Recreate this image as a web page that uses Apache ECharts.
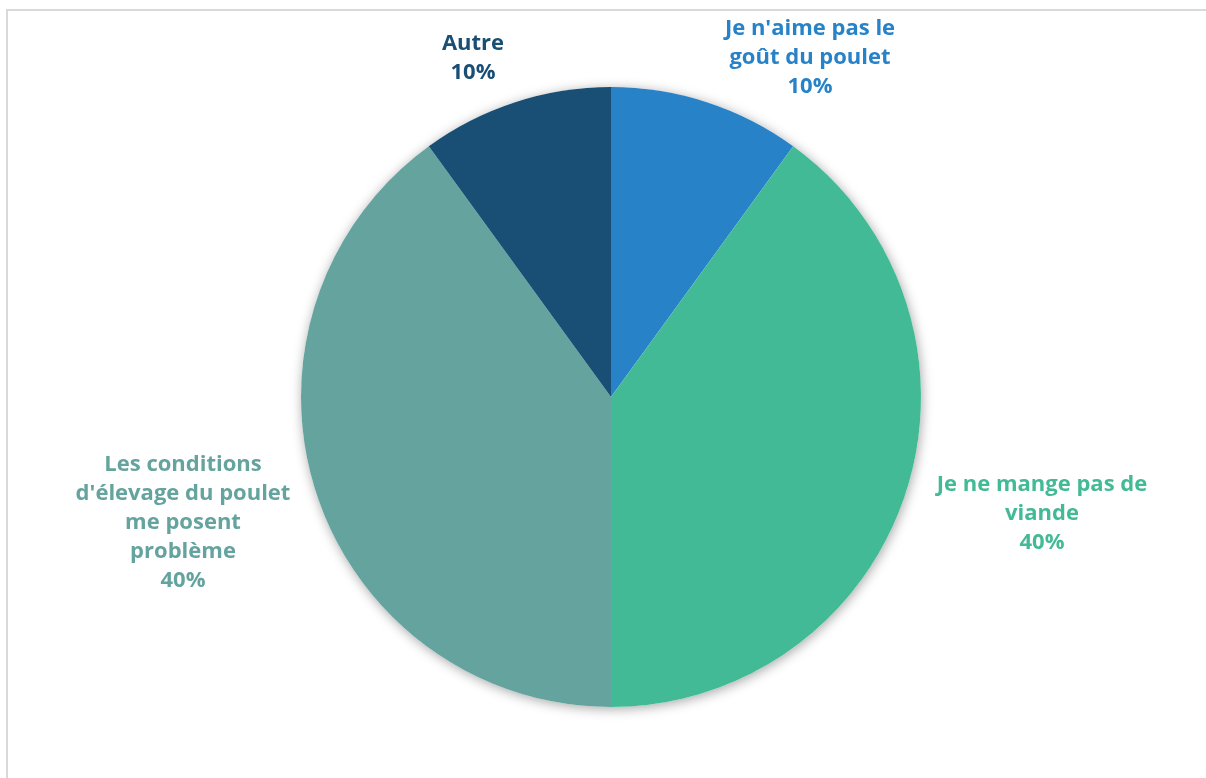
<!DOCTYPE html>
<html>
<head>
<meta charset="utf-8">
<script src="https://cdn.jsdelivr.net/npm/echarts@6/dist/echarts.min.js"></script>
<style>
  html, body { margin: 0; padding: 0; width: 1206px; height: 778px; overflow: hidden; background: #fff; }
  #chart { position: absolute; left: 0; top: 0; width: 1206px; height: 778px; }
  #frame { position: absolute; left: 6px; top: 9px; width: 1300px; height: 900px;
           border-left: 2px solid #d9d9d9; border-top: 2px solid #d9d9d9; pointer-events: none; }
</style>
</head>
<body>
<div id="chart"></div>
<div id="frame"></div>
<script>
// Reasons for not eating chicken, share of respondents
const categories = [
  "Je n'aime pas le\ngoût du poulet",
  "Je ne mange pas de\nviande",
  "Les conditions\nd'élevage du poulet\nme posent\nproblème",
  "Autre"
];
const shares = [10, 40, 40, 10];

// Slice colours, in the same order as the categories
const colors = ['#2882c7', '#43ba96', '#64a39e', '#1a4f75'];

// Label centre positions (px) for each slice
const labelCenters = [[810, 58], [1042, 514], [183, 523], [473, 58]];

const PIE_CENTER = [611, 397];
const PIE_RADIUS = 310;

const chart = echarts.init(document.getElementById('chart'), null, { renderer: 'canvas' });

chart.setOption({
  animation: false,
  backgroundColor: '#ffffff',
  series: [
    {
      // soft drop shadow under the whole disc
      type: 'pie',
      silent: true,
      center: PIE_CENTER,
      radius: PIE_RADIUS,
      z: 1,
      label: { show: false },
      labelLine: { show: false },
      itemStyle: {
        color: '#ffffff',
        shadowBlur: 12,
        shadowColor: 'rgba(0,0,0,0.35)',
        shadowOffsetX: 1,
        shadowOffsetY: 2
      },
      data: [{ value: 1 }]
    },
    {
      type: 'pie',
      center: PIE_CENTER,
      radius: PIE_RADIUS,
      startAngle: 90,
      clockwise: true,
      z: 2,
      itemStyle: { borderWidth: 0 },
      labelLine: { show: false },
      label: {
        show: true,
        position: 'outside',
        fontFamily: '"Open Sans", sans-serif',
        fontWeight: 'bold',
        fontSize: 22,
        lineHeight: 29,
        align: 'center',
        formatter: p => p.name + '\n' + p.value + '%'
      },
      labelLayout: params => {
        const c = labelCenters[params.dataIndex];
        return { x: c[0], y: c[1], align: 'center', verticalAlign: 'middle' };
      },
      data: categories.map((name, i) => ({
        name: name,
        value: shares[i],
        itemStyle: { color: colors[i] },
        label: { color: colors[i] }
      }))
    }
  ]
});
</script>
</body>
</html>
